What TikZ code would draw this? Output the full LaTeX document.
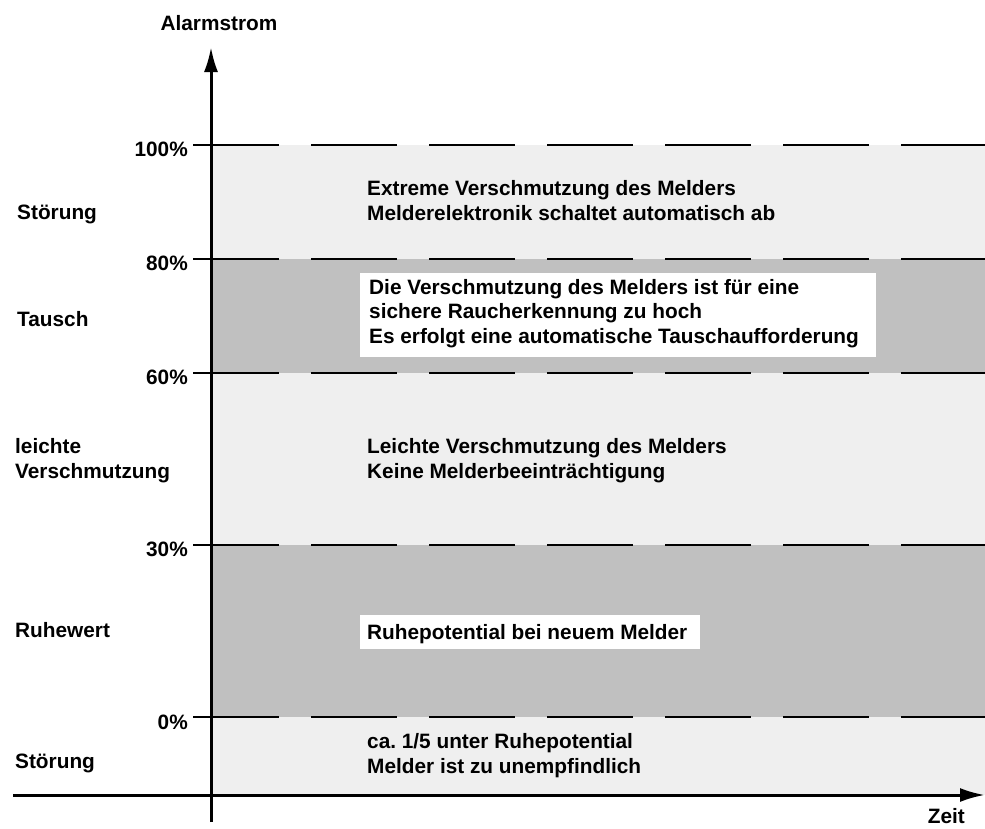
\documentclass[tikz,border=0pt]{standalone}
\usepackage{fontspec}
\setmainfont{Liberation Sans}
\usetikzlibrary{arrows.meta}
\definecolor{band_light}{RGB}{239, 239, 239}
\definecolor{band_dark}{RGB}{192, 192, 192}
\tikzstyle{lbl}=[anchor=base west,inner sep=0pt,align=left,
  font=\fontsize{20.8}{24.5}\selectfont\bfseries]
\tikzstyle{pct}=[anchor=base east,inner sep=0pt,
  font=\fontsize{20.8}{24.5}\selectfont\bfseries]
\tikzstyle{level}=[line width=2pt,dash pattern=on 86pt off 32pt]
\tikzstyle{axis}=[line width=3pt,-{Latex[length=25pt,width=14pt]}]
\begin{document}
\frenchspacing
\begin{tikzpicture}[x=1pt,y=-1pt]
    \useasboundingbox (0,0) rectangle (985,828);
    % bands
    \fill [band_light] (211,145) rectangle (985,795);
    \fill [band_dark] (211,259) rectangle (985,373);
    \fill [band_dark] (211,545) rectangle (985,717);
    \fill [white] (360,273) rectangle (876,357);
    \fill [white] (360,615) rectangle (700,649);
    % levels
    \coordinate (l100) at (193,145);
    \coordinate (l80) at (193,259);
    \coordinate (l60) at (193,373);
    \coordinate (l30) at (193,545);
    \coordinate (l0) at (193,717);
    \foreach \l in {l100,l80,l60,l30,l0}
      \draw [level] (\l) -- ++(792,0);
    % axes
    \coordinate (ybot) at (211,822);
    \coordinate (ytop) at (211,47);
    \coordinate (xleft) at (13,795);
    \coordinate (xright) at (985,795);
    \draw [axis] (ybot) -- (ytop);
    \draw [axis] (xleft) -- (xright);
    \node [lbl,anchor=base] (alarm) at (219,30) {Alarmstrom};
    \node [lbl,anchor=base east] (zeit) at (965,823) {Zeit};
    % percent labels
    \node [pct] (p100) at (188,156) {100\%};
    \node [pct] (p80) at (188,270) {80\%};
    \node [pct] (p60) at (188,384) {60\%};
    \node [pct] (p30) at (188,556) {30\%};
    \node [pct] (p0) at (188,729) {0\%};
    % state labels
    \node [lbl] (s1) at (17,219) {Störung};
    \node [lbl] (s2) at (17,326) {Tausch};
    \node [lbl] (s3) at (15,478) {leichte\\Verschmutzung};
    \node [lbl] (s4) at (15,637) {Ruhewert};
    \node [lbl] (s5) at (15,768) {Störung};
    % band texts
    \node [lbl] (t1) at (367,220) {Extreme Verschmutzung des Melders\\Melderelektronik schaltet automatisch ab};
    \node [lbl] (t2) at (369,343) {Die Verschmutzung des Melders ist für eine\\sichere Raucherkennung zu hoch\\Es erfolgt eine automatische Tauschaufforderung};
    \node [lbl] (t3) at (367,478) {Leichte Verschmutzung des Melders\\Keine Melderbeeinträchtigung};
    \node [lbl] (t4) at (367,639) {Ruhepotential bei neuem Melder};
    \node [lbl] (t5) at (367,773) {ca. 1/5 unter Ruhepotential\\Melder ist zu unempfindlich};
  \end{tikzpicture}
\end{document}
